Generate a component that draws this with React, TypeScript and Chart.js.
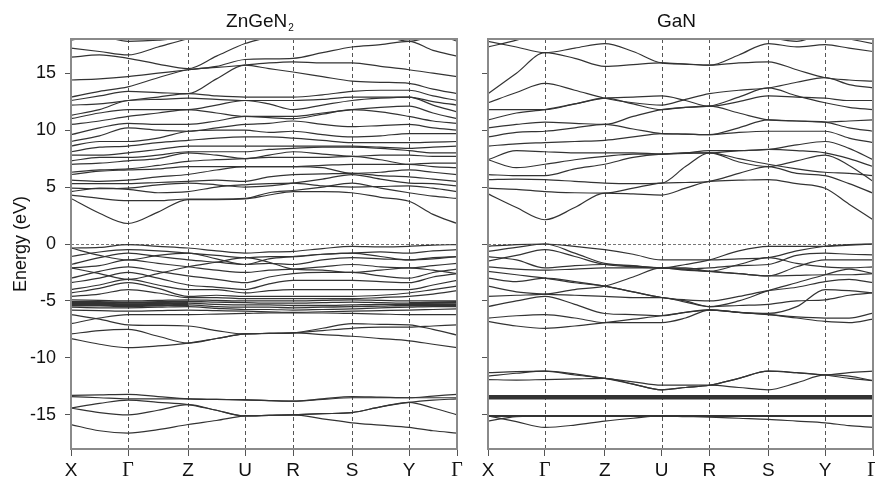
import React, { useEffect, useRef } from 'react';
import { Chart, registerables } from 'chart.js';

Chart.register(...registerables);

// k-path sampling: X, mid, Γ, mid, Z, mid, U, mid, R, mid, S, mid, Y, mid, Γ
const kPath = [0, 28.5, 57, 87, 117, 145.5, 174, 198, 222, 251.5, 281, 309.5, 338, 362, 386];
const kTicks = [0, 57, 117, 174, 222, 281, 338, 386];
const kLabels = ['X', 'Γ', 'Z', 'U', 'R', 'S', 'Y', 'Γ'];
const energyTicks = [-15, -10, -5, 0, 5, 10, 15];

// ---------------- ZnGeN2 ----------------
const znConduction = [
  [4.0, 2.7, 1.8, 2.8, 3.9, 3.9, 3.95, 4.3, 4.6, 4.6, 4.5, 4.1, 3.75, 2.6, 1.8],
  [4.3, 4.0, 3.8, 3.8, 3.95, 3.95, 4.0, 4.5, 4.7, 5.0, 5.35, 4.9, 4.5, 4.2, 4.0],
  [4.6, 4.9, 4.8, 4.5, 4.6, 5.0, 5.2, 5.3, 5.35, 5.1, 5.0, 5.05, 5.1, 4.9, 4.6],
  [4.9, 4.85, 4.9, 5.2, 5.35, 5.2, 5.0, 5.1, 5.35, 5.7, 6.1, 5.7, 5.35, 5.3, 5.1],
  [5.3, 5.3, 5.3, 5.4, 5.5, 5.6, 5.5, 5.9, 6.1, 6.15, 6.2, 6.0, 5.9, 5.7, 5.5],
  [5.6, 5.5, 5.6, 5.9, 6.1, 6.5, 6.8, 6.8, 6.8, 6.7, 6.2, 6.3, 6.5, 6.3, 6.1],
  [6.1, 6.4, 6.5, 6.6, 6.8, 6.8, 6.8, 6.8, 6.8, 6.9, 7.0, 7.0, 7.0, 6.8, 6.7],
  [6.3, 6.5, 6.6, 6.9, 7.25, 7.4, 7.5, 7.6, 7.6, 7.6, 7.7, 7.4, 7.0, 7.1, 7.1],
  [7.0, 7.1, 7.3, 7.5, 8.0, 7.8, 7.5, 7.8, 8.1, 7.9, 7.7, 7.8, 7.8, 7.7, 7.7],
  [7.3, 7.6, 7.6, 7.8, 8.1, 8.1, 8.1, 8.3, 8.4, 8.5, 8.5, 8.4, 8.2, 8.0, 8.0],
  [7.8, 7.8, 8.0, 8.3, 8.6, 8.6, 8.6, 8.6, 8.6, 8.6, 8.6, 8.5, 8.4, 8.5, 8.6],
  [8.1, 8.5, 8.6, 8.9, 9.1, 9.3, 9.4, 9.4, 9.3, 9.1, 8.9, 8.9, 8.9, 8.95, 9.0],
];
const znUpper = [
  [8.6, 9.0, 9.0, 9.3, 9.9, 10.0, 10.0, 9.8, 9.9, 9.6, 9.4, 9.5, 9.7, 9.7, 9.7],
  [9.0, 9.5, 10.2, 10.0, 9.9, 10.2, 10.5, 10.6, 10.8, 10.5, 10.3, 10.4, 10.5, 10.2, 10.0],
  [9.6, 10.2, 10.6, 10.5, 10.5, 10.8, 11.2, 11.1, 11.0, 11.4, 11.8, 11.6, 11.2, 10.8, 10.6],
  [10.5, 10.8, 11.2, 11.5, 11.8, 11.5, 11.2, 11.2, 11.2, 11.5, 11.8, 12.0, 12.1, 11.5, 11.0],
  [11.0, 11.5, 11.8, 11.8, 11.8, 12.2, 12.6, 12.3, 11.8, 12.2, 12.6, 12.8, 12.9, 12.2, 11.6],
  [11.3, 11.8, 12.6, 12.7, 12.8, 12.7, 12.6, 12.6, 12.6, 12.7, 12.9, 12.9, 12.9, 12.5, 12.2],
  [12.2, 12.3, 12.6, 12.9, 13.2, 13.0, 12.9, 12.9, 12.9, 13.1, 13.4, 13.5, 13.5, 13.0, 12.6],
  [12.6, 13.0, 13.4, 13.3, 13.2, 14.5, 15.7, 15.4, 15.1, 14.7, 14.3, 14.2, 14.1, 13.6, 13.2],
  [12.9, 13.4, 13.8, 14.6, 15.3, 15.5, 15.7, 15.9, 16.0, 15.9, 15.9, 15.6, 15.3, 15.0, 14.7],
  [14.4, 14.5, 14.7, 15.0, 15.3, 15.6, 16.2, 16.25, 16.3, 16.8, 17.3, 17.5, 17.8, 17.0, 16.5],
  [16.4, 16.6, 16.3, 15.8, 15.4, 16.5, 17.6, 18.2, 19.0, 19.0, 19.0, 19.0, 19.0, 18.5, 17.8],
  [17.2, 16.9, 16.6, 17.3, 18.0, 18.4, 19.0, 19.0, 19.0, 19.0, 19.0, 19.0, 19.0, 19.0, 19.0],
  [17.9, 18.2, 17.8, 17.9, 18.2, 19.0, 19.0, 19.0, 19.0, 19.0, 19.0, 18.4, 17.8, 18.3, 19.0],
];
const znValence = [
  [-0.35, -0.3, -0.05, -0.2, -0.35, -0.6, -0.8, -0.7, -0.65, -0.4, -0.2, -0.25, -0.2, -0.1, -0.05],
  [-1.1, -0.7, -0.5, -0.6, -0.8, -1.0, -1.2, -1.1, -1.1, -0.9, -0.8, -0.7, -0.8, -0.6, -0.5],
  [-1.8, -1.2, -0.8, -1.1, -1.4, -1.6, -1.8, -1.7, -1.8, -1.4, -1.2, -1.3, -1.4, -1.2, -1.1],
  [-2.1, -1.9, -1.4, -1.7, -2.0, -2.3, -2.5, -2.3, -2.2, -2.0, -1.8, -2.0, -2.1, -1.9, -1.7],
  [-3.0, -2.4, -2.0, -2.4, -2.8, -3.1, -3.4, -2.9, -2.6, -2.5, -2.5, -2.8, -3.0, -2.5, -2.2],
  [-3.4, -3.0, -2.5, -3.0, -3.6, -3.8, -4.0, -3.5, -3.2, -3.2, -3.2, -3.3, -3.4, -2.9, -2.6],
  [-4.0, -3.6, -3.1, -3.6, -4.0, -4.0, -4.3, -4.1, -4.0, -4.0, -4.0, -4.0, -4.0, -3.6, -3.2],
  [-4.3, -3.9, -3.4, -3.9, -4.6, -4.5, -4.6, -4.6, -4.6, -4.6, -4.6, -4.5, -4.3, -4.0, -3.7],
  [-4.6, -4.4, -4.0, -4.3, -4.7, -4.7, -4.8, -4.8, -4.8, -4.8, -4.8, -4.7, -4.6, -4.4, -4.1],
  [-0.35, -1.0, -1.4, -1.0, -0.8, -1.3, -1.8, -1.3, -1.1, -0.9, -0.8, -1.1, -1.4, -1.3, -1.1],
  [-2.1, -2.6, -3.1, -2.6, -2.0, -1.6, -1.2, -1.6, -2.2, -2.3, -2.5, -2.3, -2.1, -2.3, -2.6],
];
const znDBandEdge = [
  [-4.9, -4.95, -5.0, -4.95, -4.9, -4.95, -5.0, -5.0, -5.0, -4.95, -4.9, -4.95, -5.0, -5.0, -5.0],
  [-5.55, -5.6, -5.6, -5.55, -5.5, -5.65, -5.75, -5.75, -5.8, -5.75, -5.7, -5.6, -5.55, -5.5, -5.5],
  [-5.8, -5.85, -5.9, -5.85, -5.8, -5.85, -5.9, -5.95, -6.0, -5.95, -5.9, -5.85, -5.8, -5.75, -5.7],
];
const znDBandCore = [
  [-5.1, -5.1, -5.15, -5.1, -5.05, -5.1, -5.15, -5.2, -5.2, -5.15, -5.1, -5.15, -5.2, -5.15, -5.1],
  [-5.25, -5.25, -5.3, -5.25, -5.2, -5.3, -5.35, -5.35, -5.4, -5.4, -5.35, -5.3, -5.3, -5.3, -5.3],
  [-5.4, -5.4, -5.45, -5.4, -5.35, -5.5, -5.55, -5.55, -5.6, -5.55, -5.5, -5.45, -5.4, -5.4, -5.4],
];
const znLower = [
  [-7.0, -6.5, -6.2, -6.2, -6.2, -6.15, -6.1, -6.05, -6.06, -6.06, -6.1, -6.15, -6.2, -6.2, -6.2],
  [-6.2, -6.6, -7.1, -7.15, -7.2, -7.6, -7.9, -7.85, -7.8, -7.4, -7.0, -7.05, -7.1, -7.5, -8.0],
  [-7.9, -7.6, -7.5, -8.1, -8.7, -8.3, -7.9, -7.85, -7.8, -7.95, -8.1, -8.3, -8.5, -8.8, -9.1],
  [-8.3, -8.8, -9.1, -8.95, -8.7, -8.3, -7.9, -7.85, -7.8, -7.6, -7.4, -7.3, -7.3, -7.2, -7.1],
];
const znSemicore = [
  [-13.3, -13.25, -13.2, -13.4, -13.6, -13.65, -13.66, -13.75, -13.8, -13.6, -13.4, -13.45, -13.5, -13.35, -13.2],
  [-13.4, -13.5, -13.6, -13.6, -13.6, -13.65, -13.7, -13.75, -13.8, -13.65, -13.5, -13.5, -13.5, -13.5, -13.5],
  [-14.4, -14.0, -13.7, -13.9, -14.1, -14.6, -15.1, -15.05, -15.0, -14.9, -14.8, -14.3, -13.9, -14.4, -15.0],
  [-14.4, -14.8, -15.0, -14.6, -14.1, -14.6, -15.1, -15.05, -15.0, -15.35, -15.7, -15.9, -16.1, -16.4, -16.6],
  [-15.85, -16.4, -16.6, -16.3, -15.85, -15.5, -15.1, -15.05, -15.0, -14.9, -14.8, -14.3, -13.9, -13.7, -13.6],
];

// ---------------- GaN ----------------
const ganConduction = [
  [4.4, 3.2, 2.13, 3.2, 4.47, 4.4, 4.3, 4.9, 5.5, 5.6, 5.65, 5.3, 4.9, 3.5, 2.13],
  [4.9, 4.8, 4.6, 4.5, 4.47, 4.9, 5.35, 5.4, 5.5, 6.2, 6.8, 6.2, 6.0, 5.3, 4.47],
  [5.65, 5.7, 5.65, 5.5, 5.35, 5.3, 5.35, 6.8, 8.0, 7.2, 6.8, 7.3, 7.8, 6.9, 5.5],
  [6.1, 6.0, 6.0, 6.6, 7.0, 7.6, 7.9, 7.95, 8.0, 7.5, 7.0, 6.6, 6.3, 6.2, 6.0],
  [7.4, 6.7, 7.0, 7.4, 7.7, 7.9, 7.9, 8.0, 8.2, 8.2, 8.3, 8.2, 8.0, 7.5, 6.8],
  [7.4, 8.2, 8.1, 8.0, 8.0, 8.0, 7.9, 8.0, 8.0, 8.2, 8.3, 8.7, 9.0, 8.4, 7.4],
];
const ganUpper = [
  [8.6, 8.8, 8.9, 9.0, 9.1, 9.4, 9.7, 9.65, 9.6, 9.8, 9.9, 9.9, 9.9, 9.3, 8.9],
  [9.4, 9.8, 9.9, 10.2, 10.5, 10.1, 9.7, 9.65, 9.6, 10.2, 10.9, 10.8, 10.7, 10.2, 9.9],
  [10.2, 10.5, 10.7, 10.6, 10.5, 11.2, 11.8, 12.0, 12.1, 11.5, 10.9, 10.8, 10.7, 10.8, 10.9],
  [10.9, 11.5, 11.8, 12.3, 12.8, 12.3, 11.8, 12.0, 12.1, 12.9, 13.7, 13.0, 12.4, 12.0, 11.8],
  [11.8, 11.8, 11.8, 12.3, 12.8, 12.9, 13.0, 12.6, 12.1, 12.5, 13.0, 12.9, 12.8, 12.6, 12.6],
  [12.4, 13.3, 14.1, 13.5, 12.8, 12.4, 12.2, 12.7, 13.2, 13.5, 13.7, 14.2, 14.6, 14.0, 13.7],
  [13.2, 15.0, 16.8, 16.3, 15.6, 15.75, 15.9, 15.8, 15.7, 15.9, 16.0, 15.3, 14.6, 14.4, 14.3],
  [17.8, 17.3, 16.8, 17.2, 17.6, 16.9, 15.9, 15.8, 15.7, 16.6, 17.6, 17.3, 17.5, 17.2, 16.9],
  [17.3, 17.9, 18.6, 19.0, 19.0, 19.0, 19.0, 19.0, 19.0, 19.0, 18.2, 17.8, 18.4, 18.0, 17.6],
];
const ganValence = [
  [-0.2, -0.05, 0.0, -0.2, -0.5, -0.9, -1.4, -1.4, -1.4, -1.3, -1.2, -0.6, -0.2, -0.05, 0.0],
  [-0.65, -0.3, 0.0, -0.8, -1.7, -1.9, -2.1, -1.8, -1.4, -0.6, -0.2, -0.2, -0.2, -0.1, 0.0],
  [-1.1, -1.4, -2.1, -1.9, -1.8, -1.95, -2.1, -2.2, -2.1, -1.9, -1.8, -1.0, -0.8, -0.9, -0.95],
  [-1.5, -1.0, -0.5, -1.1, -1.8, -2.0, -2.1, -2.1, -2.4, -2.6, -2.8, -2.0, -1.4, -1.4, -1.4],
  [-2.0, -2.2, -2.3, -2.2, -2.1, -2.1, -2.1, -2.2, -2.4, -1.8, -1.2, -1.7, -2.0, -2.1, -2.0],
  [-2.4, -2.7, -3.0, -3.4, -3.7, -4.2, -4.7, -5.0, -5.5, -5.0, -4.1, -3.4, -2.7, -2.2, -2.6],
  [-3.0, -3.3, -3.0, -3.3, -3.7, -4.2, -4.7, -4.9, -5.0, -4.6, -4.1, -3.8, -3.3, -3.1, -3.4],
  [-3.7, -4.2, -4.4, -4.5, -4.6, -4.7, -4.7, -5.1, -5.5, -5.4, -5.3, -5.0, -4.9, -4.5, -4.3],
  [-4.6, -4.5, -4.4, -4.0, -3.7, -2.9, -2.1, -2.3, -2.4, -2.6, -2.8, -2.75, -2.7, -2.7, -2.6],
  [-5.5, -5.0, -4.6, -5.3, -6.1, -6.2, -6.3, -6.0, -5.8, -6.0, -6.1, -5.5, -4.0, -4.1, -4.3],
  [-6.5, -6.3, -6.2, -6.5, -6.9, -6.9, -6.9, -6.5, -5.8, -6.0, -6.2, -6.4, -6.5, -6.5, -6.06],
  [-6.8, -7.2, -7.4, -7.2, -6.9, -6.6, -6.3, -6.0, -5.76, -6.0, -6.2, -6.5, -6.8, -6.9, -6.6],
];
const ganSemicore = [
  [-11.3, -11.2, -11.17, -11.5, -11.8, -12.3, -12.8, -12.6, -12.4, -11.8, -11.17, -11.3, -11.5, -11.3, -11.17],
  [-11.6, -11.35, -11.17, -11.4, -11.8, -12.1, -12.4, -12.4, -12.4, -12.6, -12.8, -12.2, -11.5, -11.6, -12.0],
  [-11.9, -11.95, -11.9, -11.85, -11.8, -12.3, -12.8, -12.6, -12.4, -11.8, -11.17, -11.3, -11.5, -11.8, -12.0],
  [-15.1, -15.6, -16.1, -15.9, -15.55, -15.3, -15.1, -15.15, -15.2, -15.3, -15.4, -15.55, -15.7, -15.95, -16.1],
  [-15.55, -15.15, -15.1, -15.1, -15.1, -15.1, -15.1, -15.1, -15.1, -15.1, -15.1, -15.1, -15.1, -15.1, -15.1],
];
const ganDBand = [
  [-13.45, -13.45, -13.45, -13.45, -13.45, -13.45, -13.45, -13.45, -13.45, -13.45, -13.45, -13.45, -13.45, -13.45, -13.45],
];
const ganFlatCore = [
  [-15.1, -15.1, -15.1, -15.1, -15.1, -15.1, -15.1, -15.1, -15.1, -15.1, -15.1, -15.1, -15.1, -15.1, -15.1],
];

const FONT = "'Liberation Sans', Arial, Helvetica, sans-serif";
const LINE = '#333333';

type Group = { bands: number[][]; width: number; thickEnds?: number };

function makeDatasets(groups: Group[]) {
  const out: any[] = [];
  groups.forEach((g) => {
    g.bands.forEach((b) => {
      const ds: any = {
        data: kPath.map((x, i) => ({ x, y: b[i] })),
        borderColor: LINE,
        borderWidth: g.width,
        pointRadius: 0,
        fill: false,
        cubicInterpolationMode: 'monotone',
      };
      if (g.thickEnds) {
        const tw = g.thickEnds;
        ds.segment = {
          borderWidth: (c: any) => (c.p0.parsed.x < 117 || c.p0.parsed.x >= 338 ? tw : g.width),
        };
      }
      out.push(ds);
    });
  });
  return out;
}

const panelPlugin = {
  id: 'panel',
  beforeDatasetsDraw(chart: any) {
    const { ctx, chartArea: a, scales } = chart;
    ctx.save();
    ctx.strokeStyle = '#555';
    ctx.lineWidth = 1;
    ctx.setLineDash([4, 3]);
    kTicks.forEach((k) => {
      const x = Math.round(scales.x.getPixelForValue(k)) + 0.5;
      ctx.beginPath();
      ctx.moveTo(x, a.top);
      ctx.lineTo(x, a.bottom);
      ctx.stroke();
    });
    ctx.strokeStyle = '#777';
    ctx.setLineDash([3, 2]);
    const y0 = Math.round(scales.y.getPixelForValue(0)) + 0.5;
    ctx.beginPath();
    ctx.moveTo(a.left, y0);
    ctx.lineTo(a.right, y0);
    ctx.stroke();
    ctx.restore();
  },
  afterDraw(chart: any, _args: any, opts: any) {
    const { ctx, chartArea: a } = chart;
    ctx.save();
    ctx.strokeStyle = '#8a8a8a';
    ctx.lineWidth = 2;
    ctx.setLineDash([]);
    ctx.strokeRect(a.left, a.top, a.right - a.left, a.bottom - a.top);
    ctx.fillStyle = '#111';
    ctx.textBaseline = 'alphabetic';
    ctx.font = `19px ${FONT}`;
    const main = opts.title || '';
    const sub = opts.sub || '';
    const wMain = ctx.measureText(main).width;
    ctx.font = `10px ${FONT}`;
    const wSub = sub ? ctx.measureText(sub).width + 1 : 0;
    const cx = (a.left + a.right) / 2 - 4;
    const start = cx - (wMain + wSub) / 2;
    ctx.font = `19px ${FONT}`;
    ctx.textAlign = 'left';
    ctx.fillText(main, start, 27);
    if (sub) {
      ctx.font = `10px ${FONT}`;
      ctx.fillText(sub, start + wMain + 1, 31);
    }
    ctx.restore();
  },
};

function makeConfig(groups: Group[], left: boolean, title: string, sub: string, yWidth: number, padRight: number): any {
  return {
    type: 'line',
    data: { datasets: makeDatasets(groups) },
    plugins: [panelPlugin],
    options: {
      animation: false,
      responsive: false,
      events: [],
      layout: { padding: { top: 39, right: padRight, left: 0, bottom: 0 } },
      plugins: {
        legend: { display: false },
        tooltip: { enabled: false },
        panel: { title, sub },
      },
      scales: {
        x: {
          type: 'linear',
          min: 0,
          max: 386,
          afterBuildTicks: (s: any) => {
            s.ticks = kTicks.map((v) => ({ value: v }));
          },
          afterFit: (s: any) => {
            s.height = 30;
            s.paddingLeft = 0;
            s.paddingRight = 0;
          },
          grid: { display: true, drawOnChartArea: false, tickLength: 7, tickColor: '#555', tickWidth: 1 },
          border: { display: true, color: '#8a8a8a', width: 2 },
          ticks: {
            autoSkip: false,
            maxRotation: 0,
            padding: 3,
            color: '#111',
            font: (c: any) =>
              c.tick && kLabels[kTicks.indexOf(c.tick.value)] === 'Γ'
                ? { family: "'Liberation Serif', 'DejaVu Serif', serif", size: 20 }
                : { family: FONT, size: 19 },
            callback: (v: any) => {
              const i = kTicks.indexOf(Number(v));
              return i >= 0 ? kLabels[i] : '';
            },
          },
        },
        y: {
          type: 'linear',
          min: -18,
          max: 18,
          afterBuildTicks: (s: any) => {
            s.ticks = energyTicks.map((v) => ({ value: v }));
          },
          afterFit: (s: any) => {
            s.width = yWidth;
            s.paddingTop = 0;
            s.paddingBottom = 0;
          },
          grid: { display: true, drawOnChartArea: false, tickLength: 6, tickColor: '#555', tickWidth: 1 },
          border: { display: true, color: '#8a8a8a', width: 2 },
          ticks: {
            display: left,
            padding: 9,
            color: '#111',
            font: { family: FONT, size: 18 },
            callback: (v: any) => String(v),
          },
          title: {
            display: left,
            text: 'Energy (eV)',
            color: '#111',
            font: { family: FONT, size: 18 },
            padding: { top: 10, bottom: 0 },
          },
        },
      },
    },
  };
}

function Panel(props: { groups: Group[]; left: boolean; title: string; sub: string; x: number; w: number; yWidth: number; padRight: number }) {
  const ref = useRef<HTMLCanvasElement | null>(null);
  useEffect(() => {
    if (!ref.current) return;
    const chart = new Chart(ref.current, makeConfig(props.groups, props.left, props.title, props.sub, props.yWidth, props.padRight));
    return () => chart.destroy();
  }, []);
  return (
    <canvas
      ref={ref}
      width={props.w}
      height={479}
      style={{ position: 'absolute', left: props.x, top: 0, width: props.w, height: 479 }}
    />
  );
}

export default function App() {
  const znGroups: Group[] = [
    { bands: znConduction, width: 1.2 },
    { bands: znUpper, width: 1.2 },
    { bands: znValence, width: 1.2 },
    { bands: znDBandEdge, width: 1.2 },
    { bands: znDBandCore, width: 1.3, thickEnds: 2.2 },
    { bands: znLower, width: 1.2 },
    { bands: znSemicore, width: 1.2 },
  ];
  const ganGroups: Group[] = [
    { bands: ganConduction, width: 1.2 },
    { bands: ganUpper, width: 1.2 },
    { bands: ganValence, width: 1.2 },
    { bands: ganSemicore, width: 1.2 },
    { bands: ganDBand, width: 4.5 },
    { bands: ganFlatCore, width: 2 },
  ];
  return (
    <div style={{ position: 'absolute', left: 0, top: 0, width: 875, height: 479, background: '#fff', overflow: 'hidden' }}>
      <Panel groups={znGroups} left={true} title="ZnGeN" sub="2" x={0} w={475} yWidth={71} padRight={18} />
      <Panel groups={ganGroups} left={false} title="GaN" sub="" x={470} w={405} yWidth={18} padRight={2} />
    </div>
  );
}
